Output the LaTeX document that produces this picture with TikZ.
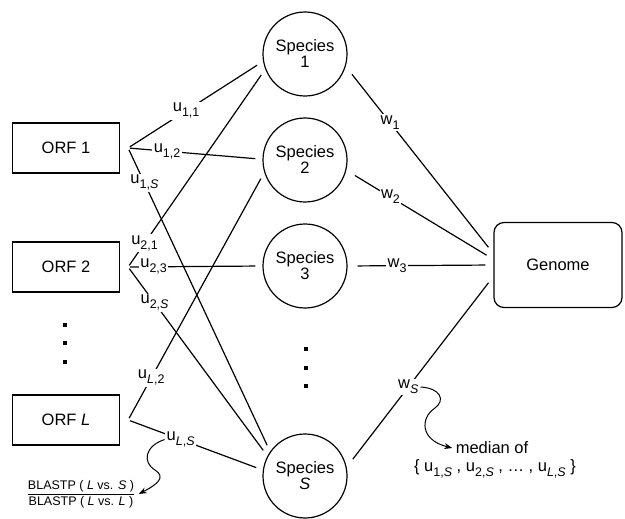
\documentclass[tikz,border=0pt]{standalone}
\usepackage{fontspec}
\setmainfont{Liberation Sans}
\usetikzlibrary{arrows.meta}

\newcommand{\lowsub}[1]{\raisebox{-5pt}{\fontsize{12.5}{12}\selectfont#1}}

\tikzset{
	orfbox/.style={draw, line width=1.2pt, minimum width=107pt, minimum height=50pt},
	species/.style={draw, circle, line width=1.2pt, minimum size=84pt, inner sep=0pt, align=center},
	link/.style={line width=1.2pt, shorten <=2pt, shorten >=7pt},
	wlink/.style={line width=1.2pt, shorten <=10pt, shorten >=8pt},
	weight/.style={fill=white, inner sep=1.5pt},
	squiggle/.style={line width=1pt, -{Stealth[length=8pt, width=6pt]}}
}

\begin{document}
\begin{tikzpicture}[x=1pt, y=-1pt, font=\fontsize{16.5}{16}\selectfont]
			\useasboundingbox (0,0) rectangle (625,519);
			\node[orfbox] (orf1) at (66,148) {ORF 1};
			\node[orfbox] (orf2) at (66,267) {ORF 2};
			\node[orfbox] (orfL) at (66,420) {ORF \textit{L}};
			\coordinate (o1) at ([xshift=8pt]orf1.east);
			\coordinate (o2) at ([xshift=8pt]orf2.east);
			\coordinate (oL) at ([xshift=8pt]orfL.east);
			\node[species] (sp1) at (305,54) {Species\\1};
			\node[species] (sp2) at (305,160) {Species\\2};
			\node[species] (sp3) at (305,266) {Species\\3};
			\node[species] (spS) at (305,476) {Species\\\textit{S}};
			\node[draw, line width=1.2pt, rounded corners=10pt, minimum width=128pt, minimum height=85pt] (genome) at (558,265) {Genome};
			\foreach \y in {325,343,362} \fill (63.3,\y-1.7) rectangle +(3.4,3.4);
			\foreach \y in {349,368,386} \fill (304.3,\y-1.7) rectangle +(3.4,3.4);
			% ORF to species
			\draw[link] (o1) -- node[weight, pos=.43] {u\lowsub{1,1}} (sp1.190);
			\draw[link] (o1) -- node[weight, pos=.29] {u\lowsub{1,2}} (sp2.179);
			\draw[link] (o1) -- node[weight, pos=.115] {u\lowsub{1,\textit{S}}} (spS.145);
			\draw[link] (o2) -- node[weight, pos=.12] {u\lowsub{2,1}} (sp1.201);
			\draw[link] (o2) -- node[weight, pos=.19] {u\lowsub{2,3}} (sp3.180);
			\draw[link] (o2) -- node[weight, pos=.19] {u\lowsub{2,\textit{S}}} (spS.152);
			\draw[link] (oL) -- node[weight, pos=.17] {u\lowsub{\textit{L},2}} (sp2.197);
			\draw[link] (oL) -- node[weight, pos=.39] (uls) {u\lowsub{\textit{L},\textit{S}}} (spS.172);
			% species to genome
			\draw[wlink] (sp1.-17) -- node[weight, pos=.30] {w\lowsub{1}} (genome.170);
			\draw[wlink] (sp2.-14) -- node[weight, pos=.30] {w\lowsub{2}} (genome.175);
			\draw[wlink] (sp3.0) -- node[weight, pos=.34] {w\lowsub{3}} (genome.west);
			\draw[wlink] (spS.12) -- node[weight, pos=.42] (ws) {w\lowsub{\textit{S}}} (genome.190);
			\node (median) at (492,448) {median of};
			\node (set) at (495,469) {\{ u\lowsub{1,\textit{S}} , u\lowsub{2,\textit{S}} , \dots\ , u\lowsub{\textit{L},\textit{S}} \}};
			\node (frac) at (81,494) {\fontsize{12.5}{14}\selectfont$\displaystyle\frac{\mbox{BLASTP ( \textit{L} vs. \textit{S} )}}{\mbox{BLASTP ( \textit{L} vs. \textit{L} )}}$};
			\draw[squiggle] (ws.east) .. controls (440,388) and (446,400) .. (435,408) .. controls (420,418) and (420,440) .. (median.west);
			\draw[squiggle] (uls.west) .. controls (145,446) and (142,462) .. (155,470) .. controls (166,477) and (158,484) .. (frac.east);
			\end{tikzpicture}
\end{document}
